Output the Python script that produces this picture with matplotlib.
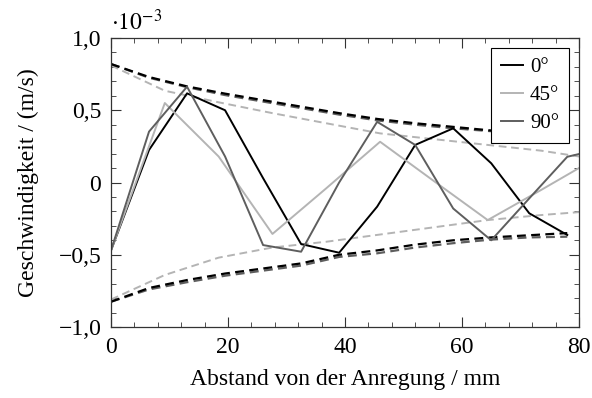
import matplotlib
matplotlib.use("Agg")
import matplotlib.pyplot as plt
from matplotlib.ticker import MultipleLocator, FixedLocator, FixedFormatter

plt.rcParams['font.family'] = ['Liberation Serif', 'DejaVu Serif']
plt.rcParams['mathtext.fontset'] = 'stix'

# distance from excitation in mm
x_0 = [0, 6.5, 13, 19.5, 26, 32.5, 39, 45.5, 52, 58.5, 65, 71.5, 78]
x_45 = [0, 9.2, 18.4, 27.6, 36.8, 46.0, 55.2, 64.4, 73.6, 80]
x_90 = [0, 6.5, 13, 19.5, 26, 32.5, 39, 45.5, 52, 58.5, 65, 71.5, 78, 80]

# velocity in 1e-3 m/s
v_0 = [-0.47, 0.225, 0.617, 0.50, 0.03, -0.426, -0.486, -0.167, 0.26, 0.375, 0.133, -0.213, -0.363]
v_45 = [-0.47, 0.55, 0.18, -0.356, -0.04, 0.282, 0.01, -0.26, -0.05, 0.10]
v_90 = [-0.47, 0.352, 0.663, 0.18, -0.433, -0.479, 0.0, 0.42, 0.26, -0.18, -0.40, -0.11, 0.178, 0.197]

# amplitude envelopes
env_0_up = [0.82, 0.73, 0.665, 0.615, 0.57, 0.525, 0.48, 0.44, 0.41, 0.385, 0.36, 0.345, 0.33]
env_0_lo = [-0.825, -0.73, -0.675, -0.63, -0.595, -0.56, -0.50, -0.47, -0.43, -0.40, -0.38, -0.365, -0.35]
env_90_up = [0.82, 0.725, 0.66, 0.605, 0.56, 0.515, 0.47, 0.43, 0.40, 0.375, 0.355, 0.34, 0.33]
env_90_lo = [-0.825, -0.74, -0.69, -0.645, -0.61, -0.575, -0.515, -0.49, -0.45, -0.42, -0.395, -0.38, -0.375]
env_45_up = [0.81, 0.635, 0.555, 0.48, 0.41, 0.34, 0.30, 0.26, 0.22, 0.18]
env_45_lo = [-0.81, -0.64, -0.52, -0.45, -0.41, -0.36, -0.31, -0.26, -0.225, -0.205]

labels = ['0°', '45°', '90°']
y_ticks = [-1.0, -0.5, 0.0, 0.5, 1.0]
y_ticklabels = ['−1,0', '−0,5', '0', '0,5', '1,0']
x_ticks = [0, 20, 40, 60, 80]

c_black = '#000000'
c_light = '#b4b4b4'
c_dark = '#5e5e5e'
c_axis = '#333333'

fig = plt.figure(figsize=(5.92, 3.98), dpi=100)
ax = fig.add_axes([0.1875, 0.1784, 0.7905, 0.7261])

dash = (0, (4.0, 2.4))
ax.plot(x_45, env_45_up, color=c_light, lw=1.4, ls=dash)
ax.plot(x_45, env_45_lo, color=c_light, lw=1.4, ls=dash)
ax.plot(x_90[:13], env_90_up, color=c_dark, lw=1.6, ls=dash)
ax.plot(x_90[:13], env_90_lo, color=c_dark, lw=1.6, ls=dash)
ax.plot(x_0, env_0_up, color=c_black, lw=1.6, ls=dash)
ax.plot(x_0, env_0_lo, color=c_black, lw=1.6, ls=dash)

ax.plot(x_0, v_0, color=c_black, lw=1.4, label=labels[0])
ax.plot(x_45, v_45, color=c_light, lw=1.4, label=labels[1])
ax.plot(x_90, v_90, color=c_dark, lw=1.4, label=labels[2])

ax.set_xlim(0, 80)
ax.set_ylim(-1.0, 1.0)
ax.xaxis.set_major_locator(FixedLocator(x_ticks))
ax.xaxis.set_minor_locator(MultipleLocator(4))
ax.yaxis.set_major_locator(FixedLocator(y_ticks))
ax.yaxis.set_major_formatter(FixedFormatter(y_ticklabels))
ax.yaxis.set_minor_locator(MultipleLocator(0.1))
ax.tick_params(which='both', direction='in', top=True, right=True, labelsize=17,
               color=c_axis)
ax.tick_params(which='major', length=7, width=0.8)
ax.tick_params(which='minor', length=3.6, width=0.6)
ax.tick_params(axis='x', pad=7)
ax.tick_params(axis='y', pad=7)
for s in ax.spines.values():
    s.set_linewidth(0.9)
    s.set_color(c_axis)

ax.set_xlabel('Abstand von der Anregung / mm', fontsize=17, labelpad=8)
ax.set_ylabel('Geschwindigkeit / (m/s)', fontsize=17, labelpad=14)
ax.text(0.0, 1.01, r'$\cdot10^{-3}$', transform=ax.transAxes, fontsize=17,
        ha='left', va='bottom')

leg = ax.legend(loc='upper right', fontsize=15, fancybox=False, framealpha=1,
                edgecolor='black', handlelength=1.05, borderaxespad=0.5,
                labelspacing=0.4, handletextpad=0.35, borderpad=0.45)
leg.get_frame().set_linewidth(0.8)

fig.savefig('out.png', dpi=100)
